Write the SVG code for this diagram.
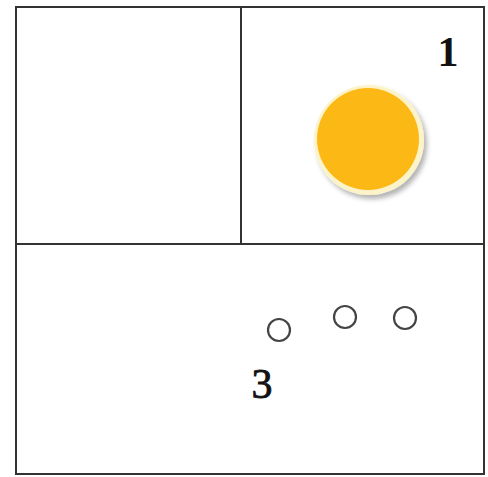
<svg xmlns="http://www.w3.org/2000/svg" width="488" height="477" viewBox="0 0 488 477">
<defs>
<filter id="sh" x="-30%" y="-30%" width="160%" height="160%">
<feGaussianBlur in="SourceAlpha" stdDeviation="2.5"/>
<feOffset dx="3" dy="4" result="b"/>
<feFlood flood-color="#000" flood-opacity="0.3"/>
<feComposite in2="b" operator="in"/>
<feMerge><feMergeNode/><feMergeNode in="SourceGraphic"/></feMerge>
</filter>
</defs>
<style>
.ln{stroke:#333;stroke-width:2;fill:none}
.sm{fill:none;stroke:#444;stroke-width:2.2}
.lb{font-family:"Liberation Serif",serif;fill:#111}
</style>
<rect width="488" height="477" fill="#fff"/>
<g id="frame">
<rect class="ln" x="16" y="7" width="468" height="467"/>
<line class="ln" x1="241" y1="7" x2="241" y2="245"/>
<line class="ln" x1="16" y1="244" x2="484" y2="244"/>
</g>
<g id="sun">
<circle cx="369" cy="140" r="55" fill="#fdf3c8" filter="url(#sh)"/>
<circle cx="368" cy="139" r="51" fill="#fcb814"/>
</g>
<g id="dots">
<circle class="sm" cx="279" cy="330" r="11"/>
<circle class="sm" cx="345" cy="317" r="11"/>
<circle class="sm" cx="405" cy="318" r="11"/>
</g>
<g id="labels">
<text class="lb" x="448" y="66" font-size="42" font-weight="bold" text-anchor="middle">1</text>
<text class="lb" x="262" y="398" font-size="42" stroke="#111" stroke-width="0.8" text-anchor="middle">3</text>
</g>
</svg>
